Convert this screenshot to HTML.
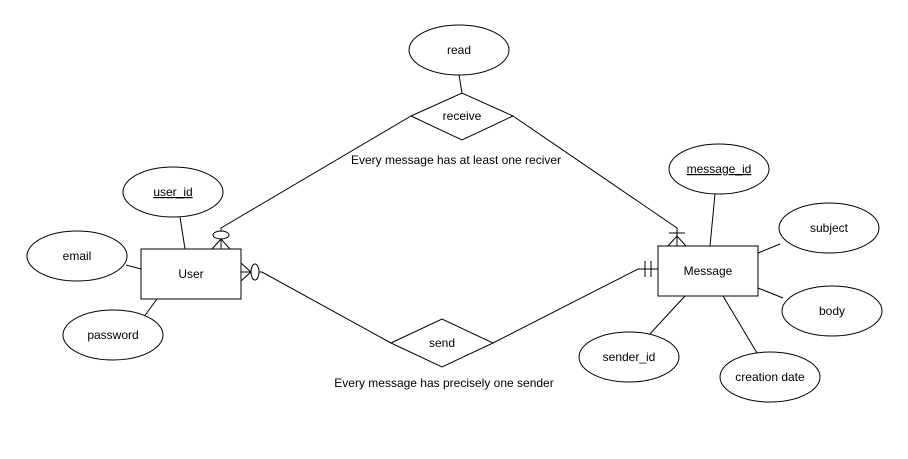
<!DOCTYPE html>
<html><head><meta charset="utf-8"><style>html,body{margin:0;padding:0;background:#fff}</style></head><body>
<svg width="908" height="454" viewBox="0 0 908 454" xmlns="http://www.w3.org/2000/svg" font-family="Liberation Sans, sans-serif" font-size="12" fill="#000">
<rect width="908" height="454" fill="#fff"/>
<g stroke="#000" stroke-width="1" fill="none">
<!-- attribute lines -->
<line x1="180" y1="217" x2="185" y2="249"/>
<line x1="126" y1="265" x2="141" y2="269"/>
<line x1="143" y1="318" x2="157" y2="299"/>
<line x1="715" y1="194" x2="710" y2="246"/>
<line x1="780" y1="244" x2="758" y2="253"/>
<line x1="783" y1="298" x2="758" y2="288"/>
<line x1="648" y1="336" x2="685" y2="296"/>
<line x1="757" y1="353" x2="723" y2="296"/>
<line x1="459" y1="75" x2="462" y2="93"/>
<!-- receive -->
<polyline points="221,249 221,228 411,116"/>
<polyline points="513,116 677,228 677,246"/>
<!-- send -->
<polyline points="241,272 262,272 391,343"/>
<polyline points="493,343 638,269 658,269"/>
<!-- crow's feet -->
<polyline points="212,249 221,239 230,249"/>
<ellipse cx="221" cy="235" rx="8" ry="4" fill="#fff"/>
<polyline points="241,263 251,272 241,281"/>
<ellipse cx="255" cy="272" rx="4" ry="8" fill="#fff"/>
<polyline points="668,246 677,236 686,246"/>
<line x1="669" y1="233" x2="685" y2="233"/>
<line x1="645" y1="261" x2="645" y2="277"/>
<line x1="651" y1="261" x2="651" y2="277"/>
</g>
<g stroke="#000" fill="#fff">
<rect x="141" y="249" width="100" height="50"/>
<rect x="658" y="246" width="100" height="50"/>
<polygon points="411,116 462,93 513,116 462,140"/>
<polygon points="391,343 442,319 493,343 442,367"/>
<ellipse cx="459" cy="50" rx="50" ry="25"/>
<ellipse cx="173" cy="192" rx="50" ry="25"/>
<ellipse cx="77" cy="256" rx="50" ry="25"/>
<ellipse cx="113" cy="335" rx="50" ry="25"/>
<ellipse cx="719" cy="169" rx="50" ry="25"/>
<ellipse cx="829" cy="228" rx="50" ry="25"/>
<ellipse cx="832" cy="311" rx="50" ry="25"/>
<ellipse cx="629" cy="357" rx="50" ry="25"/>
<ellipse cx="770" cy="377" rx="50" ry="25"/>
</g>
<g text-anchor="middle" fill="#000">
<text x="191" y="278">User</text>
<text x="708" y="275">Message</text>
<text x="462" y="120">receive</text>
<text x="442" y="347">send</text>
<text x="459" y="54">read</text>
<text x="173" y="196" text-decoration="underline">user_id</text>
<text x="77" y="260">email</text>
<text x="113" y="339">password</text>
<text x="719" y="173" text-decoration="underline">message_id</text>
<text x="829" y="232">subject</text>
<text x="832" y="315">body</text>
<text x="629" y="361">sender_id</text>
<text x="770" y="381">creation date</text>
<text x="456" y="164">Every message has at least one reciver</text>
<text x="444" y="387">Every message has precisely one sender</text>
</g>
</svg>
</body></html>
